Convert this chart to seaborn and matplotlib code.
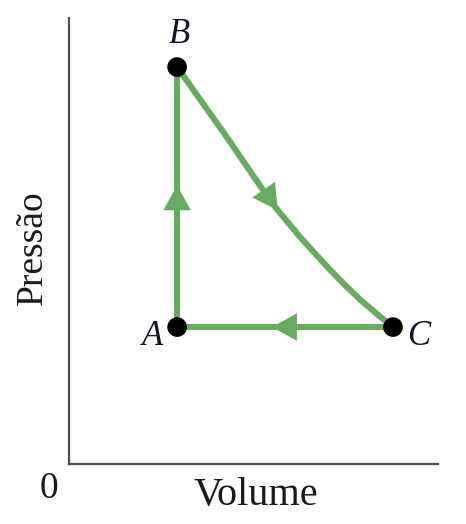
import matplotlib
matplotlib.use("Agg")
import matplotlib.pyplot as plt
import seaborn as sns
import pandas as pd

# ---- data ----
state_labels = ["A", "B", "C"]
state_volume = [2.93, 2.93, 8.78]
state_pressure = [3.07, 8.90, 3.07]

# path A -> B (isochoric)
ab_volume = [2.93, 2.93]
ab_pressure = [3.07, 8.90]
# path B -> C (curve)
bc_volume = [2.93, 4.2, 5.5, 6.26, 7.0, 7.48, 7.9, 8.35, 8.78]
bc_pressure = [8.90, 7.42, 5.85, 5.09, 4.42, 4.01, 3.68, 3.36, 3.07]
# path C -> A (isobaric)
ca_volume = [8.78, 2.93]
ca_pressure = [3.07, 3.07]

x_label = "Volume"
y_label = "Pressão"
origin_label = "0"

GREEN = "#69ab62"

sns.set_theme(style="white")
plt.rcParams["font.family"] = ["Liberation Serif", "DejaVu Serif"]

fig = plt.figure(figsize=(4.66, 5.24), dpi=100)
ax = fig.add_axes([69 / 466, (524 - 464) / 524, 369 / 466, (464 - 18) / 524])
ax.set_xlim(0, 10)
ax.set_ylim(0, 10)

for vv, pp in [(ab_volume, ab_pressure), (bc_volume, bc_pressure), (ca_volume, ca_pressure)]:
    df = pd.DataFrame({"V": vv, "P": pp})
    sns.lineplot(data=df, x="V", y="P", sort=False, estimator=None, ax=ax, color=GREEN,
                 lw=4.4, solid_capstyle="butt", solid_joinstyle="round", zorder=2)

# direction arrows
arrow_kw = dict(arrowstyle="-|>,head_length=1.0,head_width=0.55", mutation_scale=18,
                color=GREEN, lw=0, shrinkA=0, shrinkB=0)
ax.annotate("", xy=(ab_volume[0], 6.25), xytext=(ab_volume[0], 5.5), arrowprops=arrow_kw, zorder=3)
ax.annotate("", xy=(5.66, 5.69), xytext=(5.3, 6.12), arrowprops=arrow_kw, zorder=3)
ax.annotate("", xy=(5.5, ca_pressure[0]), xytext=(6.2, ca_pressure[0]), arrowprops=arrow_kw, zorder=3)

# states
sdf = pd.DataFrame({"V": state_volume, "P": state_pressure, "s": state_labels})
sns.scatterplot(data=sdf, x="V", y="P", ax=ax, color="black", s=200, edgecolor="none",
                zorder=4, legend=False)

offsets = {"A": (-25, -9), "B": (2, 33), "C": (26, -9)}
for v, p, s in zip(state_volume, state_pressure, state_labels):
    ax.annotate(s, xy=(v, p), xytext=offsets[s], textcoords="offset pixels",
                ha="center", va="center", fontsize=25, style="italic",
                color="#141428")

# axes styling
for side in ["top", "right"]:
    ax.spines[side].set_visible(False)
for side in ["left", "bottom"]:
    ax.spines[side].set_color("#505050")
    ax.spines[side].set_linewidth(1.6)
ax.set_xticks([])
ax.set_yticks([])
ax.set_xlabel("")
ax.set_ylabel("")

fig.text(256 / 466, 1 - 495 / 524, x_label, ha="center", va="center", fontsize=29, color="#1a1a1a")
fig.text(33 / 466, 1 - 248 / 524, y_label, ha="center", va="center", fontsize=27,
         rotation=90, color="#1a1a1a")
fig.text(49 / 466, 1 - 489 / 524, origin_label, ha="center", va="center", fontsize=27, color="#1a1a1a")

fig.savefig("out.png", dpi=100)
